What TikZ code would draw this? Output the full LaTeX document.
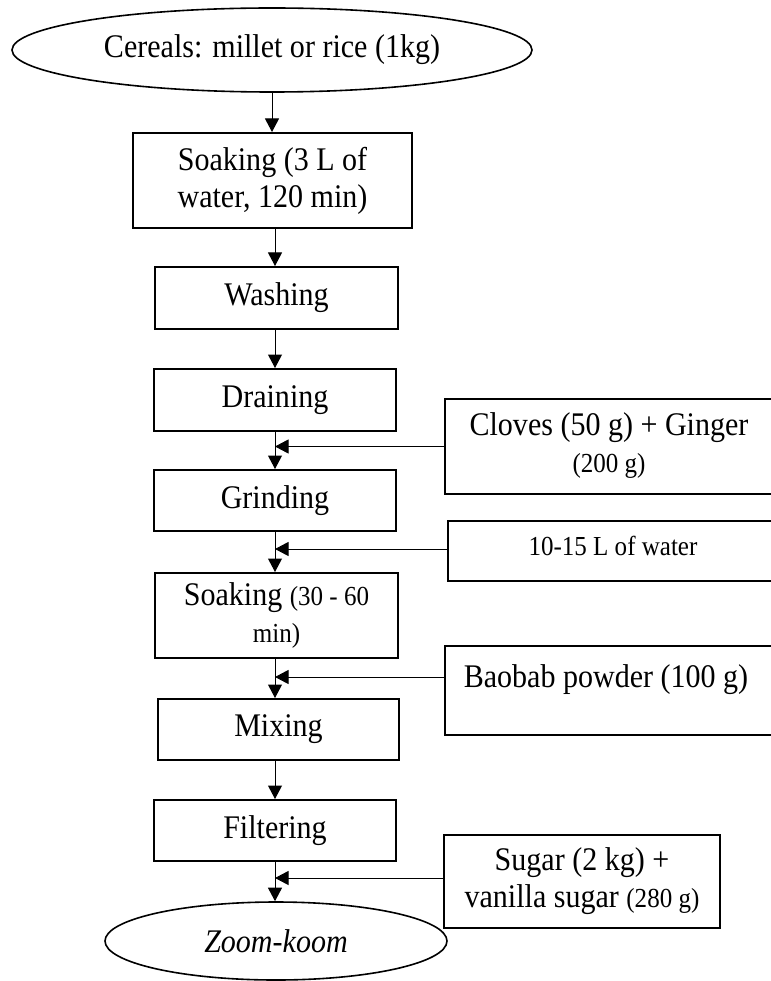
\documentclass[tikz,border=0pt]{standalone}
\usepackage{fontspec}
\setmainfont{Liberation Serif}[FakeStretch=0.91]
\usetikzlibrary{shapes.geometric,arrows.meta}
\newcommand{\bigf}{\fontsize{33}{37}\selectfont}
\newcommand{\smf}{\fontsize{27.5}{31}\selectfont}
\begin{document}
\begin{tikzpicture}[x=1pt,y=-1pt,
  box/.style={draw,line width=2pt,rectangle,inner sep=0pt,align=center,font=\bigf},
  oval/.style={draw,line width=1.6pt,ellipse,inner sep=0pt,font=\bigf},
  arr/.style={line width=1pt,-{Triangle[length=13.5pt,width=14pt]}},
  lbl/.style={inner sep=0pt,align=center,font=\bigf}]
\useasboundingbox (0,0) rectangle (770,981);
\node[oval,minimum width=520pt,minimum height=84pt] (cereal) at (272,50) {Cereals: millet or rice (1kg)};
\node[box,minimum width=279pt,minimum height=95pt] (soak1) at (272.5,180.5) {Soaking (3 L of\\water, 120 min)};
\node[box,minimum width=243pt,minimum height=62pt] (wash) at (276.5,298) {Washing};
\node[box,minimum width=242pt,minimum height=62pt] (drain) at (275,400) {Draining};
\node[box,minimum width=242pt,minimum height=61pt] (grind) at (275,500.5) {Grinding};
\node[box,minimum width=243pt,minimum height=85pt] (soak2) at (276.5,615.5) {Soaking {\smf(30 - 60}\\{\smf min)}};
\node[box,minimum width=241pt,minimum height=61pt] (mix) at (278.5,729.5) {Mixing};
\node[box,minimum width=242pt,minimum height=61pt] (filt) at (275,830.5) {Filtering};
\node[oval,minimum width=342pt,minimum height=78pt] (zoom) at (276,941) {\itshape Zoom-koom};
% side inputs
\node[box,minimum width=360pt,minimum height=95pt,anchor=west] (cloves) at (444,446.5) {};
\node[lbl] (clovest) at (609,445.5) {Cloves (50 g) + Ginger\\{\smf (200 g)}};
\node[box,minimum width=360pt,minimum height=60pt,anchor=west] (water) at (447,551) {};
\node[lbl,font=\smf] (watert) at (613,546) {10-15 L of water};
\node[box,minimum width=360pt,minimum height=89pt,anchor=west] (baobab) at (444,690.5) {};
\node[lbl] (baobabt) at (606,680) {Baobab powder (100 g)};
\node[box,minimum width=276pt,minimum height=93pt] (sugar) at (582,881.5) {Sugar (2 kg) +\\vanilla sugar {\smf (280 g)}};
% connectors
\coordinate (col) at (275,0);
\draw[arr] (cereal.south) -- (cereal.south |- soak1.north);
\draw[arr] (col |- soak1.south) -- (col |- wash.north);
\draw[arr] (col |- wash.south) -- (col |- drain.north);
\draw[arr] (col |- drain.south) -- (col |- grind.north);
\draw[arr] (col |- grind.south) -- (col |- soak2.north);
\draw[arr] (col |- soak2.south) -- (col |- mix.north);
\draw[arr] (col |- mix.south) -- (col |- filt.north);
\draw[arr] (col |- filt.south) -- (col |- zoom.north);
\coordinate (cl) at (cloves.west);
\coordinate (wa) at ([yshift=2pt]water.west);
\coordinate (ba) at ([yshift=13.5pt]baobab.west);
\coordinate (su) at ([yshift=3.5pt]sugar.west);
\draw[arr] (cl) -- (col |- cl);
\draw[arr] (wa) -- (col |- wa);
\draw[arr] (ba) -- (col |- ba);
\draw[arr] (su) -- (col |- su);
\end{tikzpicture}
\end{document}
